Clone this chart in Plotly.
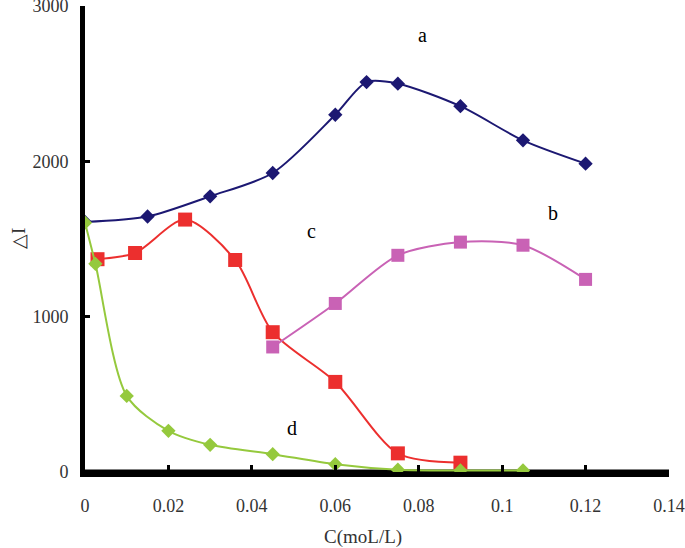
import plotly.graph_objects as go

# series a (navy diamonds)
a_x = [0, 0.015, 0.03, 0.045, 0.06, 0.0675, 0.075, 0.09, 0.105, 0.12]
a_y = [1610, 1645, 1775, 1925, 2300, 2510, 2500, 2355, 2135, 1985]

# series b (pink squares)
b_x = [0.045, 0.06, 0.075, 0.09, 0.105, 0.12]
b_y = [805, 1085, 1395, 1480, 1460, 1240]

# series c (red squares)
c_x = [0.003, 0.012, 0.024, 0.036, 0.045, 0.06, 0.075, 0.09]
c_y = [1370, 1410, 1625, 1365, 900, 580, 120, 60]

# series d (green diamonds)
d_x = [0, 0.0025, 0.01, 0.02, 0.03, 0.045, 0.06, 0.075, 0.09, 0.105]
d_y = [1605, 1340, 490, 265, 175, 115, 50, 15, 10, 10]

x_ticks = [0, 0.02, 0.04, 0.06, 0.08, 0.1, 0.12, 0.14]
x_ticktext = ["0", "0.02", "0.04", "0.06", "0.08", "0.1", "0.12", "0.14"]
y_ticks = [0, 1000, 2000, 3000]

labels = ["a", "b", "c", "d"]
label_x = [0.081, 0.1122, 0.0542, 0.0496]
label_y = [2814, 1668, 1552, 283]

FONT = "Liberation Serif"
TEXT = "#333333"

fig = go.Figure()

series = [
    (a_x, a_y, "#1c1872", "diamond", 11, "x"),
    (c_x, c_y, "#ec2f2e", "square", 14, "x"),
    (b_x, b_y, "#c962b5", "square", 13, "x"),
    (d_x, d_y, "#95c93d", "diamond", 11, "x2"),
]
for xs, ys, color, symbol, size, xax in series:
    fig.add_trace(
        go.Scatter(
            x=xs,
            y=ys,
            xaxis=xax,
            mode="lines+markers",
            line=dict(color=color, width=2, shape="spline", smoothing=0.8),
            marker=dict(color=color, symbol=symbol, size=size),
            showlegend=False,
        )
    )

for text, lx, ly in zip(labels, label_x, label_y):
    fig.add_annotation(
        x=lx, y=ly, text=text, showarrow=False,
        font=dict(family=FONT, size=20, color="black"),
    )

# axis titles placed as annotations
fig.add_annotation(
    x=-0.1147, y=0.5, xref="paper", yref="paper", text="△I", textangle=-90,
    xanchor="center", yanchor="middle",
    showarrow=False, font=dict(family=FONT, size=19, color=TEXT),
)
fig.add_annotation(
    x=0.476, y=-0.14, xref="paper", yref="paper", text="C(moL/L)",
    xanchor="center", yanchor="middle",
    showarrow=False, font=dict(family=FONT, size=19, color=TEXT),
)

# bottom axis line (kept as a shape so it always shows)
fig.add_shape(
    type="line", xref="x domain", yref="y domain",
    x0=0, x1=1, y0=0, y1=0,
    line=dict(color="black", width=5),
    layer="below",
)

fig.update_layout(
    width=685,
    height=548,
    margin=dict(l=85, r=16, t=6, b=76),
    plot_bgcolor="white",
    paper_bgcolor="white",
    font=dict(family=FONT, size=18, color=TEXT),
    # labels: pushed down with invisible outside ticks
    xaxis=dict(
        range=[0, 0.14],
        tickvals=x_ticks,
        ticktext=x_ticktext,
        showgrid=False,
        zeroline=False,
        showline=True,
        linecolor="black",
        linewidth=5,
        ticks="outside",
        ticklen=13,
        tickcolor="rgba(0,0,0,0)",
        ticklabeloverflow="allow",
        automargin=False,
    ),
    # small inside tick marks on the bottom axis
    xaxis2=dict(
        range=[0, 0.14],
        overlaying="x",
        anchor="y",
        side="bottom",
        tickvals=x_ticks,
        showticklabels=False,
        showgrid=False,
        zeroline=False,
        showline=False,
        ticks="inside",
        ticklen=7,
        tickwidth=3,
        tickcolor="black",
        automargin=False,
    ),
    yaxis=dict(
        range=[0, 3000],
        tickvals=y_ticks,
        showgrid=False,
        zeroline=False,
        showline=True,
        linecolor="black",
        linewidth=5,
        ticks="inside",
        ticklen=5,
        tickwidth=3,
        tickcolor="black",
        ticklabelstandoff=8,
        ticklabeloverflow="allow",
        automargin=False,
    ),
)

# page body has a default 8px margin; drop it so the figure sits at the corner
fig.write_html(
    "out.html",
    config={"displayModeBar": False},
    post_script="document.body.style.margin = '0';",
)
